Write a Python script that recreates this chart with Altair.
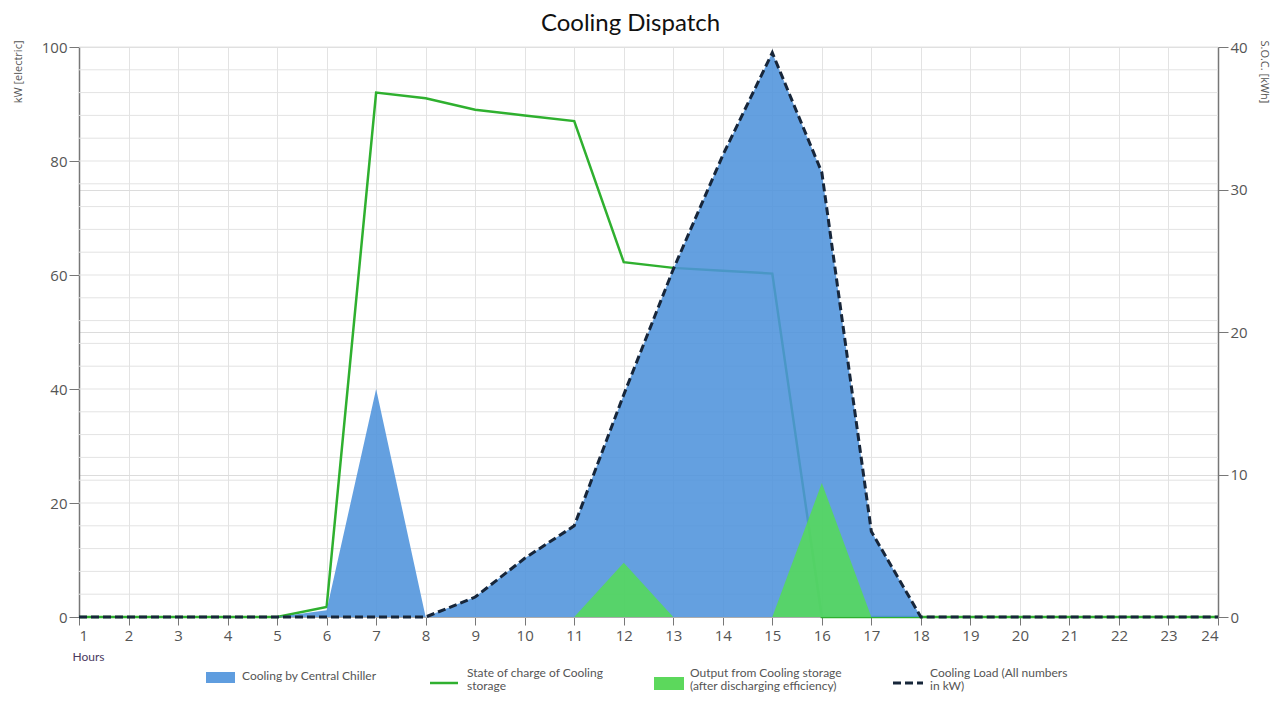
import altair as alt
import pandas as pd

# ---- data ----
hours = list(range(1, 25))
chiller_kw = [0, 0, 0, 0, 0, 1.2, 40, 0, 3.5, 10.3, 16, 39, 61, 81, 99, 78, 15, 0, 0, 0, 0, 0, 0, 0]
storage_out_kw = [0, 0, 0, 0, 0, 0, 0, 0, 0, 0, 0, 9.5, 0, 0, 0, 23.5, 0, 0, 0, 0, 0, 0, 0, 0]
soc_kwh = [0, 0, 0, 0, 0, 0.7, 36.8, 36.4, 35.6, 35.2, 34.8, 24.9, 24.5, 24.3, 24.1, 0, 0, 0, 0, 0, 0, 0, 0, 0]
load_kw = [0, 0, 0, 0, 0, 0, 0, 0, 3.5, 10.3, 16, 39, 61, 81, 99, 78, 15, 0, 0, 0, 0, 0, 0, 0]
left_ticks = [0, 20, 40, 60, 80, 100]
right_ticks = [0, 10, 20, 30, 40]
grid_kw = list(range(0, 101, 4))
legend_labels = [
    "Cooling by Central Chiller",
    "State of charge of Cooling\nstorage",
    "Output from Cooling storage\n(after discharging efficiency)",
    "Cooling Load (All numbers\nin kW)",
]

df = pd.DataFrame({
    "hour": hours,
    "chiller": chiller_kw,
    "out": storage_out_kw,
    "soc": soc_kwh,
    "load": load_kw,
})
grid_df = pd.DataFrame({"g": grid_kw})

AX_FONT = "Open Sans"
LAB_COL = "#555555"

x_enc = alt.X(
    "hour:Q",
    scale=alt.Scale(domain=[1, 24], nice=False, zero=False),
    axis=alt.Axis(
        values=hours, format="d", grid=True, gridColor="#e3e3e3",
        domainColor="#777777", tickColor="#777777", tickSize=8,
        labelFont=AX_FONT, labelFontSize=15, labelColor=LAB_COL, labelPadding=3,
        title="Hours", titleFont="Lato", titleFontSize=12, titleFontWeight="normal",
        titleColor="#4a3a5e", titleAnchor="start", titleAlign="left",
        titleX=-7, titleY=34, titleBaseline="top",
    ),
)

kw_scale = alt.Scale(domain=[0, 100], nice=False)
soc_scale = alt.Scale(domain=[0, 40], nice=False)

grid_layer = alt.Chart(grid_df).mark_rule(color="#e3e3e3", strokeWidth=1).encode(
    y=alt.Y("g:Q", scale=kw_scale, axis=None),
)

soc_line = alt.Chart(df).mark_line(color="#2fb02f", strokeWidth=2.5).encode(
    x=x_enc,
    y=alt.Y(
        "soc:Q", scale=soc_scale,
        axis=alt.Axis(
            orient="right", values=right_ticks, grid=True, gridColor="#dcdcdc",
            domainColor="#777777", domainWidth=1.5, tickColor="#777777", tickSize=10,
            labelFont=AX_FONT, labelFontSize=15, labelColor=LAB_COL, labelPadding=2,
            title="S.O.C. [kWh]", titleFont=AX_FONT, titleFontSize=11,
            titleFontWeight="normal", titleColor=LAB_COL, titleAngle=90,
            titleAlign="left", titleBaseline="middle", titleX=45, titleY=-7,
        ),
    ),
)

chiller_area = alt.Chart(df).mark_area(color="#4f93dc", opacity=0.88).encode(
    x=x_enc,
    y=alt.Y(
        "chiller:Q", scale=kw_scale,
        axis=alt.Axis(
            orient="left", values=left_ticks, grid=False,
            domainColor="#777777", domainWidth=1.5, tickColor="#777777", tickSize=10,
            labelFont=AX_FONT, labelFontSize=15, labelColor=LAB_COL, labelPadding=2,
            title="kW [electric]", titleFont=AX_FONT, titleFontSize=11,
            titleFontWeight="normal", titleColor=LAB_COL, titleAngle=-90,
            titleAlign="right", titleBaseline="middle", titleX=-61, titleY=-7,
        ),
    ),
)
out_area = alt.Chart(df).mark_area(color="#55dc55", opacity=0.85).encode(
    x=x_enc, y=alt.Y("out:Q", scale=kw_scale),
)
load_line = alt.Chart(df).mark_line(color="#17263a", strokeWidth=3, strokeDash=[8, 4]).encode(
    x=x_enc, y=alt.Y("load:Q", scale=kw_scale),
)
kw_layer = alt.layer(chiller_area, out_area, load_line)


def one(label):
    return pd.DataFrame({"t": [label]})


def legend_text(label, x, y):
    return alt.Chart(one(label)).mark_text(
        align="left", baseline="top", lineBreak="\n", lineHeight=13,
        font="Lato", fontSize=12, color="#555555",
    ).encode(text="t:N", x=alt.value(x), y=alt.value(y))


leg = [
    alt.Chart(one(legend_labels[0])).mark_rect(color="#5f9ddf").encode(
        x=alt.value(127), x2=alt.value(156), y=alt.value(625), y2=alt.value(636)),
    legend_text(legend_labels[0], 163, 624),
    alt.Chart(one(legend_labels[1])).mark_rule(color="#2fb02f", strokeWidth=2.5).encode(
        x=alt.value(351), x2=alt.value(379), y=alt.value(636)),
    legend_text(legend_labels[1], 388, 621),
    alt.Chart(one(legend_labels[2])).mark_rect(color="#5cd85c").encode(
        x=alt.value(575), x2=alt.value(605), y=alt.value(630), y2=alt.value(643)),
    legend_text(legend_labels[2], 611, 621),
    alt.Chart(one(legend_labels[3])).mark_rule(color="#17263a", strokeWidth=3, strokeDash=[8, 4]).encode(
        x=alt.value(814), x2=alt.value(844), y=alt.value(636)),
    legend_text(legend_labels[3], 851, 621),
]

chart = alt.layer(grid_layer, soc_line, kw_layer, *leg).resolve_scale(y="independent").properties(
    width=1139,
    height=570,
    autosize=alt.AutoSizeParams(type="none"),
    padding={"left": 71, "top": 39, "right": 57, "bottom": 78},
    title=alt.TitleParams(
        "Cooling Dispatch", font="Lato", fontSize=24, fontWeight="normal",
        color="#111111", anchor="middle", dx=-18, offset=4,
    ),
).configure_view(stroke=None)

chart.save("out.html", embed_options={"renderer": "svg", "actions": False})
